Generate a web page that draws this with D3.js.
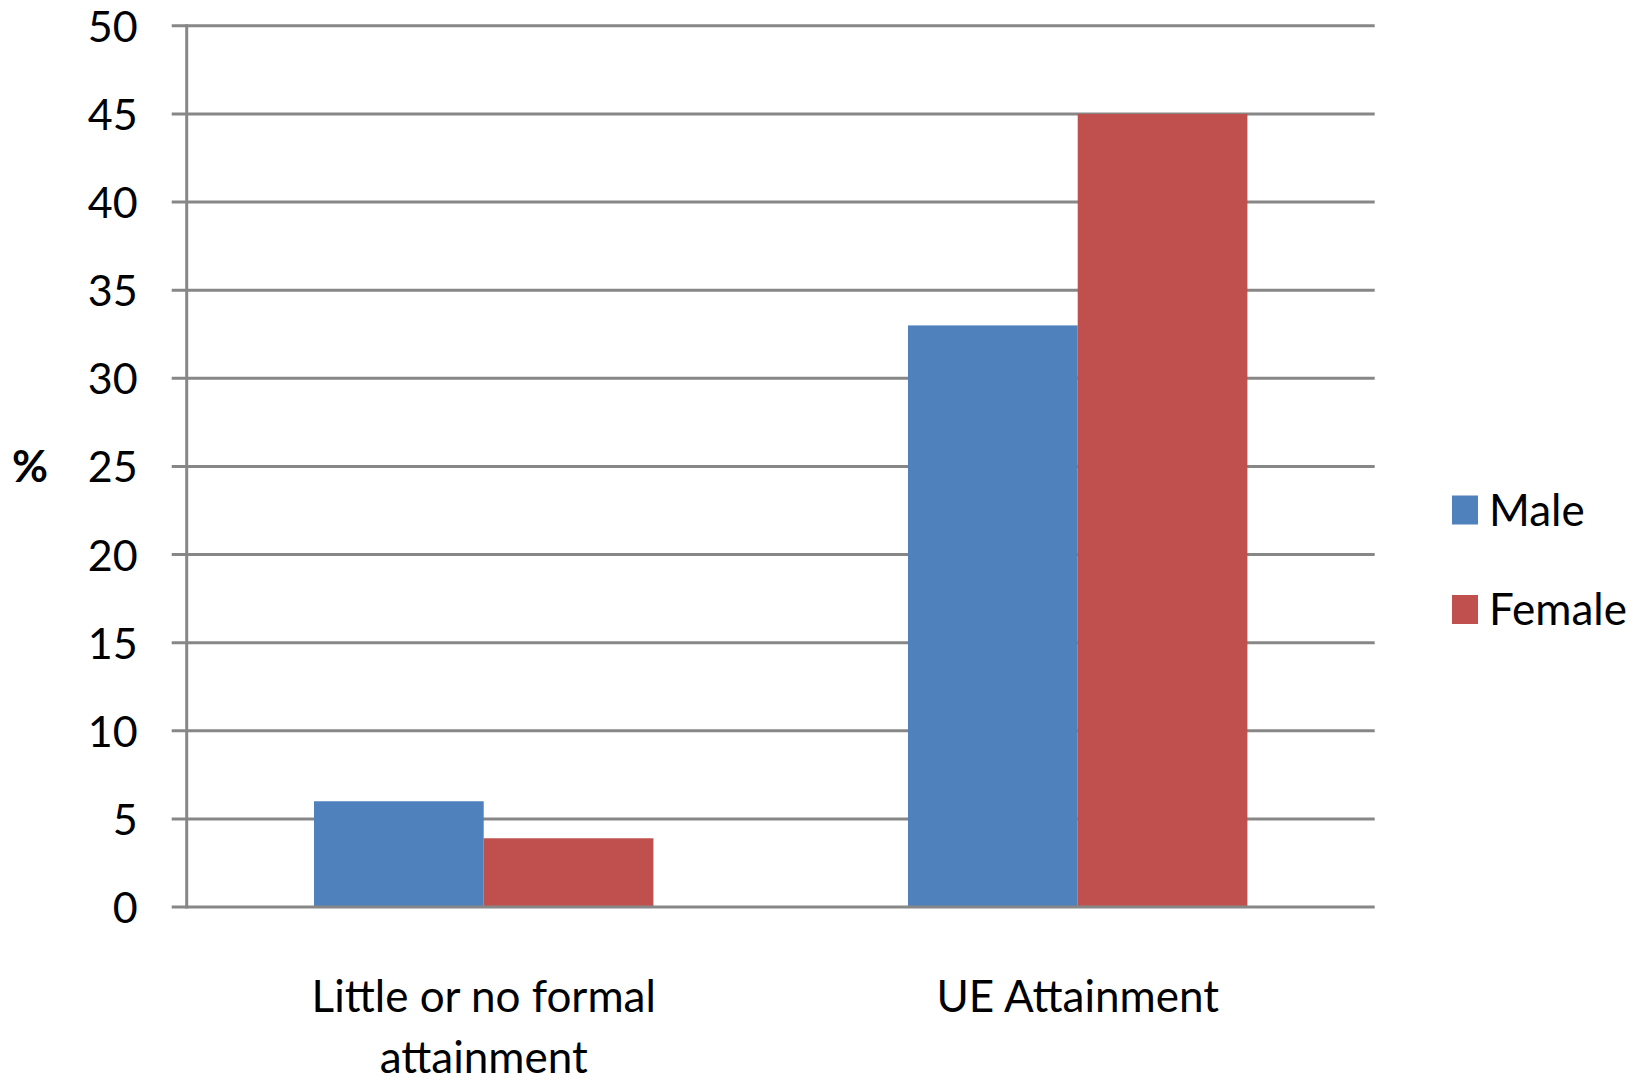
<!DOCTYPE html>
<html>
<head>
<meta charset="utf-8">
<script src="https://cdn.jsdelivr.net/npm/d3@7"></script>
<style>
  html, body { margin: 0; padding: 0; background: #fff; }
  svg { display: block; }
  text { font-family: Lato, "Open Sans", sans-serif; fill: #000; }
</style>
</head>
<body>
<svg id="chart" width="1646" height="1086"></svg>
<script>
const categories = [["Little or no formal", "attainment"], ["UE Attainment"]];
const categoryKeys = ["Little or no formal attainment", "UE Attainment"];
const seriesNames = ["Male", "Female"];
const maleValues = [6, 33];
const femaleValues = [3.9, 45];
const yTicks = [0, 5, 10, 15, 20, 25, 30, 35, 40, 45, 50];
const yLabel = "%";
const colors = ["#4F81BD", "#C0504D"];

const svg = d3.select("#chart");
svg.append("rect").attr("width", 1646).attr("height", 1086).attr("fill", "#fff");

const plot = { left: 186.7, right: 1374.7, top: 25.8, bottom: 907 };
const gridColor = "#878787";

const y = d3.scaleLinear().domain([0, 50]).range([plot.bottom, plot.top]);
const x0 = d3.scaleBand().domain(categoryKeys).range([plot.left, plot.right]).paddingInner(0).paddingOuter(0);
const x1 = d3.scaleBand().domain(seriesNames).range([0, x0.bandwidth()]).paddingInner(0).paddingOuter(0.75);
const color = d3.scaleOrdinal().domain(seriesNames).range(colors);

// gridlines (behind bars), except zero
const yAxis = d3.axisLeft(y).tickValues(yTicks).tickSize(0).tickPadding(0).tickFormat(d3.format("d"));
const gridG = svg.append("g");
gridG.selectAll("line").data(yTicks.filter(d => d !== 0)).join("line")
  .attr("x1", plot.left - 15).attr("x2", plot.right)
  .attr("y1", d => y(d)).attr("y2", d => y(d))
  .attr("stroke", gridColor).attr("stroke-width", 3);

// bars
const data = categoryKeys.map((c, i) => ({ cat: c, vals: [
  { s: "Male", v: maleValues[i] }, { s: "Female", v: femaleValues[i] }] }));
const groups = svg.append("g").selectAll("g").data(data).join("g")
  .attr("transform", d => `translate(${x0(d.cat)},0)`);
groups.selectAll("rect").data(d => d.vals).join("rect")
  .attr("x", d => x1(d.s)).attr("width", x1.bandwidth())
  .attr("y", d => y(d.v)).attr("height", d => y(0) - y(d.v))
  .attr("fill", d => color(d.s));

// zero line and axis line
svg.append("line").attr("x1", plot.left - 15).attr("x2", plot.right)
  .attr("y1", y(0)).attr("y2", y(0)).attr("stroke", gridColor).attr("stroke-width", 3);
svg.append("line").attr("x1", plot.left).attr("x2", plot.left)
  .attr("y1", y(50) - 1.5).attr("y2", y(0) + 1.5).attr("stroke", gridColor).attr("stroke-width", 3);

// y tick labels via axis
const axisG = svg.append("g").attr("transform", `translate(${plot.left - 49},0)`).call(yAxis);
axisG.select(".domain").remove();
axisG.selectAll("text").attr("font-size", 43).attr("font-family", "Lato, sans-serif")
  .attr("fill", "#000").attr("dy", "0.36em").attr("x", 0);

// y label
svg.append("text").attr("x", 30).attr("y", y(25)).attr("dy", "0.36em")
  .attr("text-anchor", "middle").attr("font-size", 44).attr("font-weight", "bold").text(yLabel);

// category labels
categories.forEach((lines, i) => {
  const cx = x0(categoryKeys[i]) + x0.bandwidth() / 2;
  lines.forEach((ln, j) => {
    svg.append("text").attr("x", cx).attr("y", 1012 + j * 61)
      .attr("text-anchor", "middle").attr("font-size", 44).text(ln);
  });
});

// legend
const legend = svg.append("g").selectAll("g").data(seriesNames).join("g")
  .attr("transform", (d, i) => `translate(1452,${510 + i * 99.5})`);
legend.append("rect").attr("x", 0).attr("y", -14.5).attr("width", 26).attr("height", 29)
  .attr("fill", d => color(d));
legend.append("text").attr("x", 37).attr("y", 0).attr("dy", "0.36em")
  .attr("font-size", 44).text(d => d);
</script>
</body>
</html>
